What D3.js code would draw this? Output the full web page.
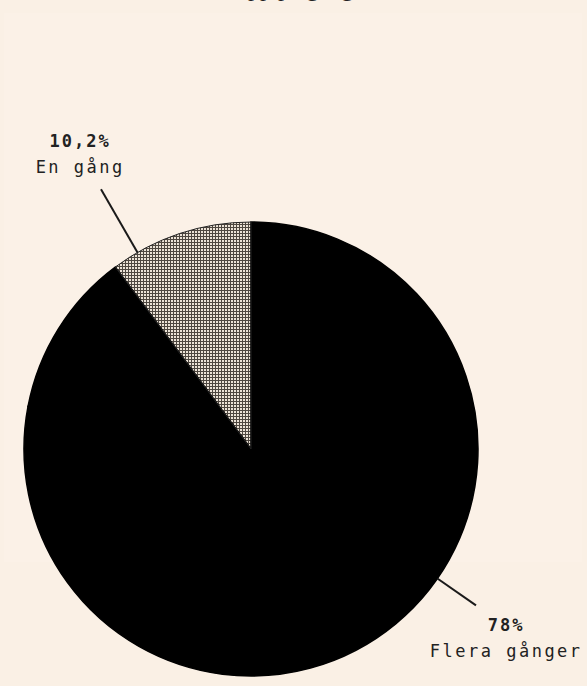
<!DOCTYPE html>
<html>
<head>
<meta charset="utf-8">
<script src="https://cdn.jsdelivr.net/npm/d3@7"></script>
<style>
  html, body { margin: 0; padding: 0; background: #faf0e5; }
  svg { display: block; }
</style>
</head>
<body>
<div id="chart"></div>
<script>
// data
var categories = ['En gång', 'Flera gånger', 'Övrigt'];
var values = [10.2, 78, 11.8];
var valueLabels = ['10,2%', '78%', ''];
var titleText = 'Hur ofta har det hänt upp på gång';

var width = 587, height = 686;
var cx = 251, cy = 449, radius = 227;

// where each callout sits (degrees clockwise from 12 o'clock)
var labelAngle = [-30, 124.8, null];
var lineOuter = [300, 274, null];
var textOffset = [[-22, -42], [29, 26]];

var svg = d3.select('#chart').append('svg')
    .attr('width', width)
    .attr('height', height);

var defs = svg.append('defs');
var pat = defs.append('pattern')
    .attr('id', 'grid')
    .attr('patternUnits', 'userSpaceOnUse')
    .attr('width', 3)
    .attr('height', 3);
pat.append('rect').attr('width', 3).attr('height', 3).attr('fill', '#ece3d7');
pat.append('rect').attr('width', 3).attr('height', 1).attr('fill', '#4e4740');
pat.append('rect').attr('width', 1).attr('height', 3).attr('fill', '#4e4740');

// faint panel
svg.append('rect')
    .attr('x', 4).attr('y', 13)
    .attr('width', 578).attr('height', 549)
    .attr('fill', '#fbf1e7');

// title (cut off at the top)
svg.append('text')
    .attr('x', 30)
    .attr('y', -4)
    .style('font-family', '"Liberation Serif", "DejaVu Serif", serif')
    .style('font-size', '24px')
    .attr('fill', '#222')
    .text(titleText);

var data = categories.map(function(c, i) {
    return { name: c, value: values[i], label: valueLabels[i], i: i };
});

var pie = d3.pie()
    .sort(null)
    .value(function(d) { return d.value; })
    .startAngle(-2 * Math.PI * values[0] / 100)
    .endAngle(2 * Math.PI - 2 * Math.PI * values[0] / 100);

var arc = d3.arc().innerRadius(0).outerRadius(radius);

var g = svg.append('g').attr('transform', 'translate(' + cx + ',' + cy + ')');

g.selectAll('path.slice')
    .data(pie(data))
    .enter()
    .append('path')
    .attr('class', 'slice')
    .attr('d', arc)
    .attr('fill', function(d) { return d.data.i == 0 ? 'url(#grid)' : '#000'; })
    .attr('stroke', function(d) { return d.data.i == 0 ? 'none' : '#000'; })
    .attr('stroke-width', 1.5);

// outline of the patterned slice, drawn on top
g.selectAll('path.edge')
    .data(pie(data).filter(function(d) { return d.data.i == 0; }))
    .enter()
    .append('path')
    .attr('class', 'edge')
    .attr('d', arc)
    .attr('fill', 'none')
    .attr('stroke', '#222')
    .attr('stroke-width', 1);

// callouts
data.forEach(function(d, i) {
    if (!d.label) return;
    var a = labelAngle[i] * Math.PI / 180;
    var x1 = Math.sin(a) * radius, y1 = -Math.cos(a) * radius;
    var x2 = Math.sin(a) * lineOuter[i], y2 = -Math.cos(a) * lineOuter[i];

    g.append('line')
        .attr('x1', x1).attr('y1', y1)
        .attr('x2', x2).attr('y2', y2)
        .attr('stroke', '#1a1a1a')
        .attr('stroke-width', 2);

    var tx = x2 + textOffset[i][0], ty = y2 + textOffset[i][1];
    var t = g.append('text')
        .attr('text-anchor', 'middle')
        .style('font-family', '"DejaVu Sans Mono", "Liberation Mono", monospace')
        .style('font-size', '17px')
        .style('letter-spacing', '2.5px')
        .attr('fill', '#222');
    t.append('tspan')
        .attr('x', tx + 1.2).attr('y', ty)
        .style('font-weight', 'bold')
        .style('letter-spacing', '2px')
        .text(d.label);
    t.append('tspan')
        .attr('x', tx + 1.2).attr('y', ty + 26)
        .text(d.name);
});
</script>
</body>
</html>
